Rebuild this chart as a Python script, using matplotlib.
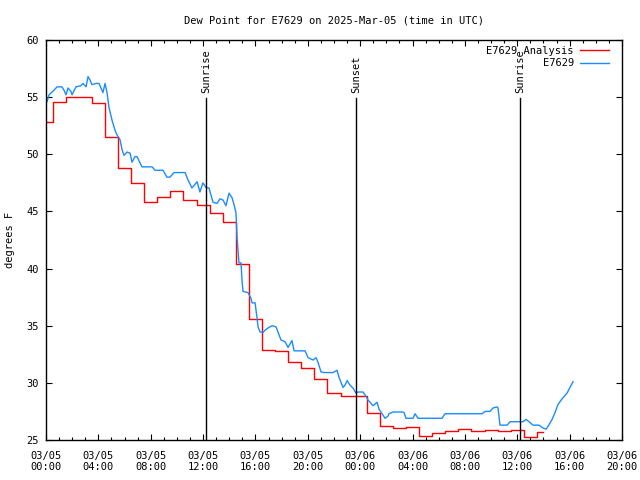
import matplotlib
matplotlib.use("Agg")
import matplotlib.pyplot as plt
import numpy as np

# ---- data (hours since 2025-03-05 00:00 UTC) ----
analysis_hours = list(range(0, 39))
analysis_vals = [52.8, 54.6, 55.0, 55.0, 54.5, 51.5, 48.8, 47.5, 45.8, 46.3,
                 46.8, 46.0, 45.6, 44.9, 44.1, 40.4, 35.6, 32.9, 32.8, 31.8,
                 31.3, 30.3, 29.1, 28.85, 28.85, 27.4, 26.2, 26.05, 26.1, 25.35,
                 25.6, 25.8, 26.0, 25.8, 25.9, 25.8, 25.9, 25.3, 25.7]

obs_hours = [0.08, 0.23, 0.61, 0.84, 1.22, 1.38, 1.53, 1.68, 1.91, 1.99,
             2.29, 2.67, 2.83, 3.06, 3.21, 3.36, 3.51, 3.82, 4.05, 4.20,
             4.35, 4.51, 4.66, 4.81, 5.04, 5.27, 5.42, 5.65, 5.81, 5.96,
             6.19, 6.42, 6.57, 6.80, 6.95, 7.33, 8.10, 8.33, 8.94, 9.24,
             9.47, 9.78, 10.62, 10.85, 11.15, 11.54, 11.76, 11.99, 12.22, 12.45,
             12.76, 13.06, 13.29, 13.52, 13.75, 13.98, 14.21, 14.36, 14.51, 14.59,
             14.74, 14.90, 14.97, 15.05, 15.43, 15.66, 15.74, 15.97, 16.12, 16.20,
             16.35, 16.58, 16.73, 16.96, 17.27, 17.57, 17.72, 17.95, 18.26, 18.49,
             18.79, 18.95, 19.79, 20.02, 20.40, 20.63, 20.78, 21.01, 21.31, 21.93,
             22.23, 22.38, 22.69, 22.84, 23.00, 23.22, 23.45, 23.68, 23.84, 24.22,
             24.45, 24.60, 24.98, 25.13, 25.29, 25.44, 25.67, 25.90, 26.13, 26.20,
             26.51, 27.20, 27.35, 27.50, 28.04, 28.19, 28.42, 30.25, 30.48, 33.31,
             33.54, 33.92, 34.15, 34.45, 34.53, 34.68, 35.22, 35.45, 36.44, 36.67,
             36.90, 37.20, 37.66, 37.97, 38.20, 38.35, 38.66, 38.88, 39.11, 39.42,
             39.65, 39.80, 40.03, 40.26]
obs_vals = [54.6, 55.2, 55.6, 55.9, 55.9, 55.6, 55.2, 55.8, 55.5, 55.2,
            55.9, 56.0, 56.2, 55.9, 56.8, 56.5, 56.1, 56.2, 56.2, 55.8,
            55.4, 56.2, 55.4, 54.1, 53.0, 52.1, 51.7, 51.3, 50.4, 49.9,
            50.2, 50.1, 49.3, 49.8, 49.8, 48.9, 48.9, 48.6, 48.6, 48.0,
            48.0, 48.4, 48.4, 47.75, 47.05, 47.6, 46.7, 47.5, 47.1, 47.05,
            45.8, 45.7, 46.1, 46.0, 45.5, 46.6, 46.2, 45.6, 44.9, 42.8,
            40.5, 40.5, 39.0, 38.0, 37.9, 37.4, 37.0, 37.0, 35.7, 34.9,
            34.45, 34.4, 34.6, 34.8, 35.0, 34.9, 34.45, 33.75, 33.6, 33.1,
            33.7, 32.8, 32.8, 32.2, 32.0, 32.2, 31.8, 30.95, 30.9, 30.9,
            31.1, 30.5, 29.6, 29.8, 30.2, 29.8, 29.55, 29.1, 29.2, 29.2,
            28.8, 28.5, 28.0, 28.15, 28.3, 27.7, 27.3, 26.9, 27.1, 27.3,
            27.45, 27.45, 27.4, 26.9, 26.9, 27.3, 26.9, 26.9, 27.3, 27.3,
            27.5, 27.5, 27.8, 27.9, 27.8, 26.3, 26.3, 26.6, 26.6, 26.8,
            26.6, 26.3, 26.3, 26.05, 25.95, 26.2, 26.8, 27.4, 28.1, 28.6,
            28.9, 29.1, 29.6, 30.1]

event_hours = [12.22, 23.70, 36.23]
event_names = ["Sunrise", "Sunset", "Sunrise"]

xtick_hours = list(range(0, 45, 4))
xtick_labels = ["03/05\n00:00", "03/05\n04:00", "03/05\n08:00", "03/05\n12:00",
                "03/05\n16:00", "03/05\n20:00", "03/06\n00:00", "03/06\n04:00",
                "03/06\n08:00", "03/06\n12:00", "03/06\n16:00", "03/06\n20:00"]
yticks = [25, 30, 35, 40, 45, 50, 55, 60]

# ---- plot ----
plt.rcParams['font.family'] = ['DejaVu Sans Mono']
fig = plt.figure(figsize=(6.4, 4.8), dpi=100)
ax = fig.add_axes([46/640, 40/480, 576/640, 400/480])

ax.plot(analysis_hours, analysis_vals, color='#ff0000', lw=1.0,
        drawstyle='steps-mid', label='E7629 Analysis')
ax.plot(obs_hours, obs_vals, color='#1a8cff', lw=1.0, label='E7629')

for h, name in zip(event_hours, event_names):
    ax.plot([h, h], [25, 54.93], color='black', lw=1.0)
    ax.text(h, 55.4, name, rotation=90, ha='center', va='bottom', fontsize=7.5)

ax.set_xlim(0, 44)
ax.set_ylim(25, 60)
ax.set_xticks(xtick_hours)
ax.set_xticklabels(xtick_labels, linespacing=1.1)
ax.set_xticks(range(0, 45), minor=True)
ax.set_yticks(yticks)
ax.set_yticklabels([str(v) for v in yticks])
ax.tick_params(axis='both', which='major', direction='in', length=4, width=0.8,
               top=True, right=True, labelsize=7.5, colors='black')
ax.tick_params(axis='x', which='major', pad=8)
ax.tick_params(axis='y', which='major', pad=5)
ax.tick_params(axis='x', which='minor', direction='in', length=2.5, width=0.8,
               top=True, bottom=True)
for s in ax.spines.values():
    s.set_linewidth(1.0)

ax.set_title("Dew Point for E7629 on 2025-Mar-05 (time in UTC)", fontsize=7.5, pad=12)
ax.set_ylabel("degrees F", fontsize=7.5, labelpad=8)

leg = ax.legend(loc='upper right', bbox_to_anchor=(0.988, 1.0), frameon=False,
                markerfirst=False, fontsize=7.5,
                handlelength=2.8, handletextpad=0.6, borderaxespad=0.15,
                borderpad=0.4, labelspacing=0.25)

fig.savefig("out.png", dpi=100)
